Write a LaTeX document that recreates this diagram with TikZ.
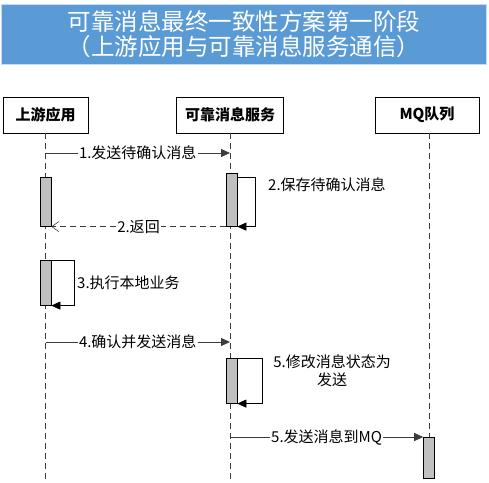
\documentclass[tikz,border=0pt]{standalone}
\usepackage{fontspec}
\setmainfont{Noto Sans CJK SC}
\usetikzlibrary{arrows.meta,calc}
\definecolor{titleblue}{RGB}{91,155,213}
\definecolor{actgray}{RGB}{192,192,192}
\definecolor{linegray}{RGB}{60,60,60}
\tikzset{
  titlebox/.style={draw={rgb,255:red,200;green,220;blue,240}, fill=titleblue, text=white, align=center,
    minimum width=485pt, minimum height=60pt, font=\fontsize{23.5}{25.5}\selectfont, inner sep=0pt},
  part/.style={draw, line width=0.8pt, minimum height=36pt, inner sep=0pt, font=\fontsize{15}{17}\selectfont\bfseries},
  life/.style={draw=linegray, dashed, dash pattern=on 6pt off 4pt, line width=0.7pt},
  act/.style={draw=black, fill=actgray, minimum width=11pt, inner sep=0pt, line width=0.6pt},
  msg/.style={draw=linegray, line width=0.8pt, -{Triangle[length=9pt,width=8pt]}},
  ret/.style={draw=linegray, line width=0.8pt, dash pattern=on 6pt off 4pt, -{Straight Barb[length=7pt,width=10pt,line width=0.6pt]}},
  loop/.style={draw=black, line width=0.6pt, -{Triangle[length=9pt,width=8pt]}},
  lbl/.style={fill=white, inner sep=1pt, font=\fontsize{15}{18}\selectfont},
}
\begin{document}
\begin{tikzpicture}[x=1pt,y=-1pt]
\useasboundingbox (0,0) rectangle (489,482);
\node[titlebox] (title) at (244,34) {可靠消息最终一致性方案第一阶段\\（上游应用与可靠消息服务通信）};

\node[part, minimum width=85pt] (up) at (45.5,115) {上游应用};
\node[part, minimum width=107pt] (svc) at (230,115) {可靠消息服务};
\node[part, minimum width=104pt] (mq) at (427,115) {MQ队列};

\coordinate (upend) at (45.5,482);
\coordinate (svcend) at (230,482);
\coordinate (mqend) at (429,482);
\draw[life] (up.south) -- (upend);
\draw[life] (svc.south) -- (svcend);
\draw[life] (mq.south -| mqend) -- (mqend);

% activations
\node[act, minimum height=49pt, anchor=north] (a1) at (45.5,177) {};
\node[act, minimum height=53pt, anchor=north] (a2) at (231.5,173) {};
\node[act, minimum height=45pt, anchor=north] (a3) at (45.5,260) {};
\node[act, minimum height=45pt, anchor=north] (a5) at (231.5,358) {};
\node[act, minimum height=41pt, anchor=north] (a6) at (429,437) {};

% 1
\coordinate (m1s) at (45.5,153);
\coordinate (m1e) at (230,153);
\draw[msg] (m1s) -- node[lbl] {1.发送待确认消息} (m1e);

% 2 self
\coordinate (l2) at (255,177);
\draw[loop] (a2.east |- l2) -- (l2) |- (a2.south east);
\node[lbl, anchor=west] (t2) at (267,185) {2.保存待确认消息};

% 2 return
\draw[ret] (a2.south west) -- node[lbl] {2.返回} (a1.south east);

% 3 self
\coordinate (l3) at (74,260);
\draw[loop] (a3.north east) -- (l3) |- (a3.south east);
\node[lbl, anchor=west] (t3) at (76,283) {3.执行本地业务};

% 4
\coordinate (m4s) at (45.5,342);
\coordinate (m4e) at (230,342);
\draw[msg] (m4s) -- node[lbl] {4.确认并发送消息} (m4e);

% 5 self
\coordinate (l5) at (262,358);
\draw[loop] (a5.north east) -- (l5) |- (a5.south east);
\node[lbl, align=center] (t5) at (332,371) {5.修改消息状态为\\发送};

% 5 send
\coordinate (m5s) at (230,437);
\draw[msg] (m5s) -- node[lbl] {5.发送消息到MQ} (a6.north west);
\end{tikzpicture}
\end{document}
